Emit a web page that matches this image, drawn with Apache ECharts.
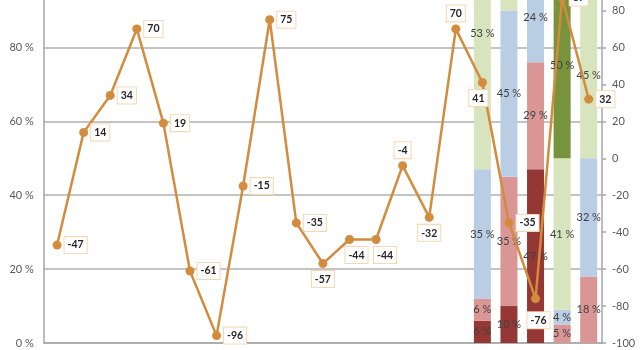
<!DOCTYPE html>
<html>
<head>
<meta charset="utf-8">
<script src="https://cdn.jsdelivr.net/npm/echarts@6/dist/echarts.min.js"></script>
<style>
html,body{margin:0;padding:0;background:#fff;overflow:hidden;width:640px;height:350px;}
#chart{position:absolute;left:0;top:-32px;width:640px;height:382px;}
</style>
</head>
<body>
<div id="chart"></div>
<script>
// ---- data ----
var categories = ['1','2','3','4','5','6','7','8','9','10','11','12','13','14','15','16','17','18','19','20','21'];
var lineValues = [-47, 14, 34, 70, 19, -61, -96, -15, 75, -35, -57, -44, -44, -4, -32, 70, 41, -35, -76, 87, 32];
// stacked shares (%) for the last five categories
var darkRedShare   = [6, 10, 47, null, null];
var pinkShare      = [6, 35, 29, 5, 18];
var blueShare      = [35, 45, 24, 4, 32];
var lightGreenShare= [53, 10, null, 41, 45];
var darkGreenShare = [null, null, null, 50, 5];
var leftTicks  = [0, 20, 40, 60, 80, 100];
var rightTicks = [-100, -80, -60, -40, -20, 0, 20, 40, 60, 80, 100];

// ---- styling (kept separate from data) ----
var labelPos = ['right','right','right','right','right','right','right','right','right','right',
                'bottom','bottom','bottom','top','bottom','top','bottom','right','bottom','right','right'];
var labelOffset = {10:[0,0], 11:[7,0], 12:[9,0], 16:[-4,0], 18:[3,6]};

var pad = categories.length - darkRedShare.length;
function padded(arr){ var out=[]; for(var i=0;i<pad;i++) out.push(null); return out.concat(arr); }

var FONT = 'Lato, "Open Sans", sans-serif';
var barLabel = { show:true, position:'inside', formatter:function(p){ return p.value==null?'':p.value+' %'; },
                 color:'#404040', fontSize:11, fontFamily:FONT };

function barSeries(name, arr, color, extra){
  var d = padded(arr).map(function(v){ return v; });
  if (extra) extra(d);
  return { name:name, type:'bar', stack:'s', yAxisIndex:0, barWidth:17, data:d,
           itemStyle:{color:color}, label:barLabel, emphasis:{disabled:true}, z:2 };
}

var lineData = lineValues.map(function(v,i){
  var item = { value:v, label:{ position:labelPos[i] } };
  if (labelOffset[i]) item.label.offset = labelOffset[i];
  return item;
});

var chart = echarts.init(document.getElementById('chart'), null, {renderer:'canvas'});
chart.setOption({
  animation:false,
  backgroundColor:'#ffffff',
  grid:{ left:43, right:38, top:0, bottom:7, containLabel:false },
  xAxis:{ type:'category', data:categories, boundaryGap:true,
          axisLine:{show:true, lineStyle:{color:'#a6a6a6', width:1.5}},
          axisTick:{show:false}, axisLabel:{show:false}, splitLine:{show:false} },
  yAxis:[
    { type:'value', min:leftTicks[0], max:leftTicks[leftTicks.length-1], interval:20, position:'left',
      axisLine:{show:true, lineStyle:{color:'#a6a6a6', width:1.5}},
      axisTick:{show:false},
      axisLabel:{ formatter:'{value} %', color:'#595959', fontSize:11, fontFamily:FONT, margin:10 },
      splitLine:{ show:true, lineStyle:{color:'#b0b0b0', width:1.5} } },
    { type:'value', min:rightTicks[0], max:rightTicks[rightTicks.length-1], interval:20, position:'right',
      axisLine:{show:true, lineStyle:{color:'#a6a6a6', width:1.5}},
      axisTick:{show:true, length:4, inside:false, lineStyle:{color:'#a6a6a6', width:1.5}},
      axisLabel:{ color:'#595959', fontSize:11, fontFamily:FONT, margin:10 },
      splitLine:{show:false} }
  ],
  series:[
    barSeries('a', darkRedShare, '#953735'),
    barSeries('b', pinkShare, '#d99694'),
    barSeries('c', blueShare, '#b9cde5'),
    barSeries('d', lightGreenShare, '#d7e4bd', function(d){
      var idx = pad; d[idx] = { value:d[idx], label:{ offset:[0,-38] } };
    }),
    barSeries('e', darkGreenShare, '#77933c'),
    { name:'line', type:'line', yAxisIndex:1, data:lineData, z:5,
      symbol:'circle', symbolSize:9,
      lineStyle:{ color:'#d38b3d', width:2.5 },
      itemStyle:{ color:'#d38b3d' },
      label:{ show:true, distance:3, color:'#262626', fontSize:10.5, fontWeight:'bold', fontFamily:FONT,
              backgroundColor:'#ffffff', borderColor:'#f6d6b0', borderWidth:1, padding:[3,3,2,3] },
      emphasis:{disabled:true} }
  ]
});
</script>
</body>
</html>
